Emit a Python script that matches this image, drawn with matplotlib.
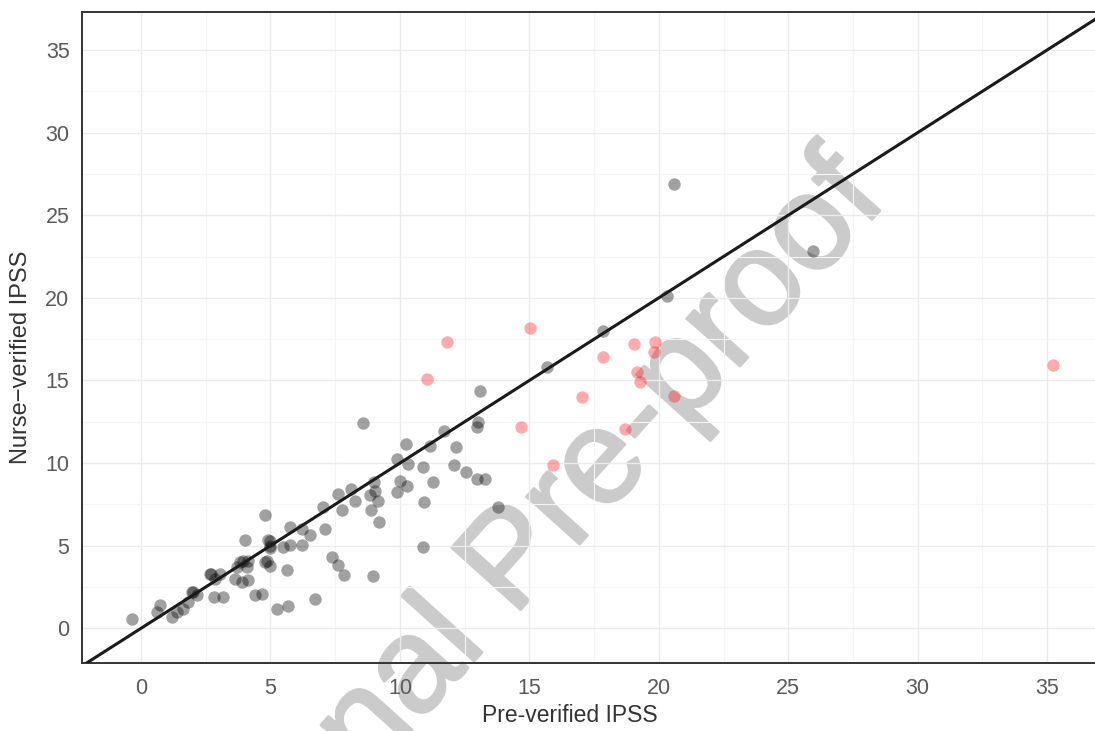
import matplotlib
matplotlib.use("Agg")
import matplotlib.pyplot as plt
import matplotlib.patheffects as pe
from matplotlib.ticker import MultipleLocator

# Gray (agreeing) points: pre-verified vs nurse-verified IPSS
gray_x = [20.58, 25.96, 20.3, 17.85, 15.7, 13.09, 13.02, 12.96, 11.7, 8.58,
          10.23, 11.16, 12.16, 9.87, 10.3, 10.9, 12.08, 12.57, 12.96, 13.28,
          11.26, 10.0, 10.26, 9.87, 9.0, 9.05, 9.16, 8.9, 9.2, 10.93,
          13.8, 8.13, 8.25, 7.6, 7.04, 7.78, 7.1, 8.84, 10.9, 7.36,
          7.6, 7.84, 8.97, 6.72, 4.79, 4.0, 4.9, 5.0, 5.0, 4.98,
          4.79, 4.85, 4.98, 5.63, 5.75, 6.2, 6.53, 6.2, 5.75, 5.5,
          3.82, 3.95, 4.14, 3.69, 4.08, 2.66, 2.7, 3.05, 2.86, 3.63,
          3.89, 4.14, 1.95, 2.0, 2.15, 2.8, 3.18, 4.4, 4.66, 5.24,
          5.69, 0.73, 0.6, 1.38, 1.63, 1.19, -0.36, 1.83]
gray_y = [26.9, 22.84, 20.1, 18.0, 15.8, 14.38, 12.47, 12.17, 11.96, 12.4,
          11.16, 11.06, 11.0, 10.25, 9.95, 9.75, 9.9, 9.45, 9.05, 9.05,
          8.85, 8.94, 8.64, 8.24, 8.84, 8.3, 7.7, 7.13, 6.42, 7.67,
          7.33, 8.44, 7.73, 8.14, 7.35, 7.18, 6.02, 8.04, 4.95, 4.31,
          3.81, 3.2, 3.14, 1.79, 6.83, 5.32, 5.32, 5.0, 5.3, 4.85,
          4.0, 4.05, 3.8, 3.5, 6.12, 6.02, 5.62, 5.02, 5.02, 4.9,
          4.0, 4.05, 4.1, 3.7, 3.7, 3.3, 3.3, 3.3, 3.0, 3.0,
          2.8, 2.9, 2.19, 2.2, 1.99, 1.9, 1.9, 2.0, 2.1, 1.19,
          1.35, 1.39, 0.98, 0.98, 1.19, 0.68, 0.59, 1.59]

# Red (discrepant) points
red_x = [11.8, 11.03, 15.02, 19.05, 19.85, 19.8, 17.85, 19.16, 19.27, 20.6,
         17.05, 14.67, 18.7, 15.9, 35.24]
red_y = [17.3, 15.09, 18.15, 17.2, 17.3, 16.7, 16.4, 15.5, 14.9, 14.08,
         13.98, 12.17, 12.07, 9.9, 15.92]

ticks = [0, 5, 10, 15, 20, 25, 30, 35]

plt.rcParams['font.family'] = ['Liberation Sans', 'DejaVu Sans']

W, H = 1095, 731
fig = plt.figure(figsize=(W / 100, H / 100), dpi=100)
L, R, T, B = 82, 1095, 12, 663
ax = fig.add_axes([L / W, 1 - B / H, (R - L) / W, (B - T) / H])

ax.set_xlim(-2.28, 36.85)
ax.set_ylim(-2.1, 37.3)
ax.set_xticks(ticks)
ax.set_yticks(ticks)
ax.xaxis.set_minor_locator(MultipleLocator(2.5))
ax.yaxis.set_minor_locator(MultipleLocator(2.5))
ax.grid(which='major', color='#ebebeb', linewidth=1.0, zorder=0)
ax.grid(which='minor', color='#f5f5f5', linewidth=0.8, zorder=0)
ax.set_axisbelow(True)
ax.tick_params(which='both', length=0, labelsize=15.5, labelcolor='#5a5a5a')
ax.tick_params(axis='x', pad=11)
ax.tick_params(axis='y', pad=9)
for s in ax.spines.values():
    s.set_color('#333333')
    s.set_linewidth(1.4)
ax.spines['right'].set_visible(False)

# Watermark
fig.text(0.1758, -0.3324, 'Journal Pre-proof', fontsize=97, color='#cbcbcb',
         rotation=48, ha='left', va='baseline', rotation_mode='anchor', zorder=1,
         path_effects=[pe.withStroke(linewidth=2, foreground='#cbcbcb')])

ax.set_zorder(2)
ax.patch.set_alpha(0)

ax.scatter(gray_x, gray_y, s=80, color='black', alpha=0.37, linewidths=0, zorder=3)
ax.scatter(red_x, red_y, s=80, color='red', alpha=0.33, linewidths=0, zorder=3)
ax.axline((0, 0), slope=1, color='#1a1a1a', linewidth=2.2, zorder=4)

ax.set_xlabel('Pre-verified IPSS', fontsize=16.5, color='#333333')
ax.xaxis.set_label_coords((570 - L) / (R - L), (B - 704) / (B - T))
ax.set_ylabel('Nurse\u2212verified IPSS', fontsize=17, color='#333333')
ax.yaxis.set_label_coords((32 - L) / (R - L), (B - 357) / (B - T))

fig.savefig('out.png', dpi=100)
